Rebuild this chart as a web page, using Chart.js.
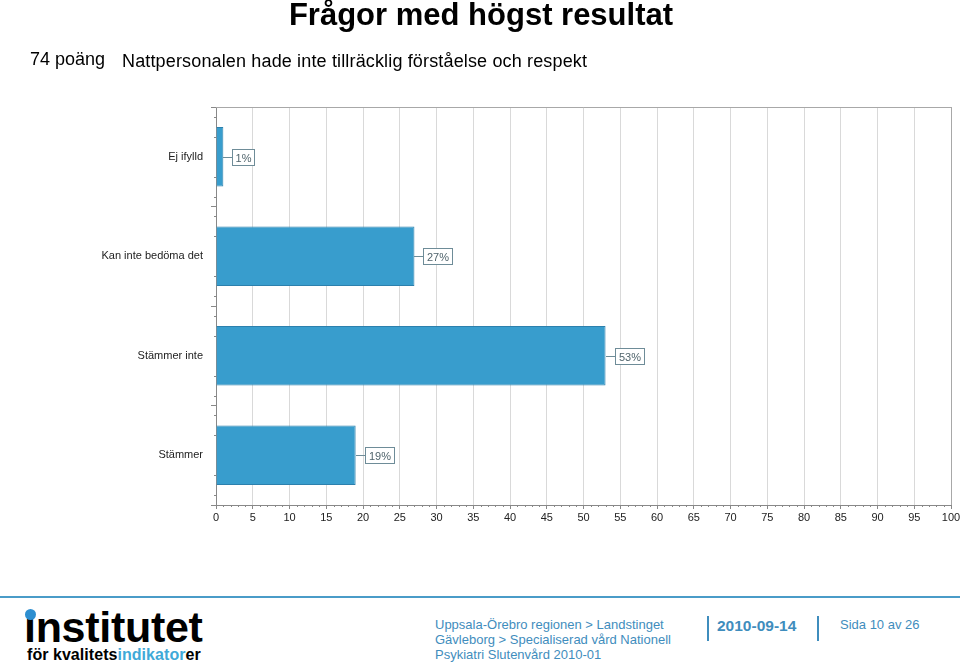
<!DOCTYPE html>
<html lang="sv">
<head>
<meta charset="utf-8">
<title>Frågor med högst resultat</title>
<script src="https://cdn.jsdelivr.net/npm/chart.js@4.4.1/dist/chart.umd.min.js"></script>
<style>
  body { margin: 0; background: #fff; font-family: "Liberation Sans", Arial, sans-serif; }
  #page { position: relative; width: 960px; height: 666px; overflow: hidden; }
  .abs { position: absolute; white-space: nowrap; }
  #title { left: 0; width: 962px; top: -1px; text-align: center; font-size: 31px; line-height: 31px; font-weight: bold; color: #000; }
  #points { left: 30px; top: 49px; font-size: 18px; line-height: 20px; color: #000; }
  #question { left: 122px; top: 51px; font-size: 18px; line-height: 20px; color: #000; letter-spacing: 0.15px; }
  #chartBox { left: 0; top: 0; width: 960px; height: 540px; }
  #rule { left: 0; top: 596px; width: 960px; height: 2px; background: #4a9cc8; }
  #logo1 { left: 24px; top: 603px; font-size: 43px; line-height: 48px; font-weight: bold; color: #000; letter-spacing: -0.3px; }
  #dot { left: 25px; top: 609px; width: 11px; height: 11px; border-radius: 50%; background: #2e8fd0; }
  #logo2 { left: 27px; top: 646px; font-size: 16px; line-height: 18px; font-weight: bold; color: #000; letter-spacing: 0.05px; }
  #logo2 span { color: #3fa9d8; }
  .foot { color: #3f8dbd; font-size: 13px; line-height: 15px; }
  #org { left: 435px; top: 617px; }
  #date { left: 717px; top: 617px; font-size: 15.5px; font-weight: bold; line-height: 18px; }
  #page1 { left: 840px; top: 617px; }
  .bar { width: 2px; height: 25px; background: #3f8dbd; top: 616px; }
</style>
</head>
<body>
<div id="page">
  <div id="chartBox" class="abs"><canvas id="resultChart" width="960" height="540"></canvas></div>
  <div id="title" class="abs">Frågor med högst resultat</div>
  <div id="points" class="abs">74 poäng</div>
  <div id="question" class="abs">Nattpersonalen hade inte tillräcklig förståelse och respekt</div>

  <div id="rule" class="abs"></div>
  <div id="logo1" class="abs">ınstitutet</div>
  <div id="dot" class="abs"></div>
  <div id="logo2" class="abs">för kvalitets<span>indikator</span>er</div>

  <div id="org" class="abs foot">Uppsala-Örebro regionen &gt; Landstinget<br>Gävleborg &gt; Specialiserad vård Nationell<br>Psykiatri Slutenvård 2010-01</div>
  <div class="abs bar" style="left:707px"></div>
  <div id="date" class="abs foot">2010-09-14</div>
  <div class="abs bar" style="left:817px"></div>
  <div id="page1" class="abs foot">Sida 10 av 26</div>
</div>

<script>
// ==========================
// Data
// ==========================
const categories = ["Ej ifylld", "Kan inte bedöma det", "Stämmer inte", "Stämmer"];
const percentValues = [1, 27, 53, 19];
const xTickMax = 100;
const xTickStep = 5;

// ==========================
// Plugins: frame, minor ticks, value labels
// ==========================
const frameAndMinorTicks = {
  id: "frameAndMinorTicks",
  afterDraw(chart) {
    const { ctx, chartArea, scales } = chart;
    const x = scales.x, y = scales.y;
    ctx.save();
    // top and right frame lines
    ctx.strokeStyle = "#a8a8a8";
    ctx.lineWidth = 1;
    ctx.beginPath();
    ctx.moveTo(chartArea.left, chartArea.top + 0.5);
    ctx.lineTo(chartArea.right + 0.5, chartArea.top + 0.5);
    ctx.moveTo(chartArea.right + 0.5, chartArea.top);
    ctx.lineTo(chartArea.right + 0.5, chartArea.bottom);
    ctx.stroke();

    ctx.strokeStyle = "#888";
    ctx.beginPath();
    // minor ticks on x axis, every unit
    for (let v = 0; v <= xTickMax; v++) {
      if (v % xTickStep === 0) continue;
      const px = Math.round(x.getPixelForValue(v)) + 0.5;
      ctx.moveTo(px, chartArea.bottom);
      ctx.lineTo(px, chartArea.bottom + 2);
    }
    // minor ticks on y axis, five per category
    const band = y.getPixelForValue(1) - y.getPixelForValue(0);
    categories.forEach((c, i) => {
      const center = y.getPixelForValue(i);
      [-2, -1, 1, 2].forEach(k => {
        const py = Math.round(center + k * band / 5) + 0.5;
        ctx.moveTo(chartArea.left - 2, py);
        ctx.lineTo(chartArea.left, py);
      });
    });
    ctx.stroke();
    ctx.restore();
  }
};

const valueLabels = {
  id: "valueLabels",
  afterDatasetsDraw(chart) {
    const { ctx } = chart;
    const meta = chart.getDatasetMeta(0);
    ctx.save();
    ctx.font = "11px 'Liberation Sans', Arial, sans-serif";
    meta.data.forEach((bar, i) => {
      const text = percentValues[i] + "%";
      const w = Math.ceil(ctx.measureText(text).width) + 6;
      const h = 16;
      const x0 = Math.round(bar.x);
      const y0 = Math.round(bar.y);
      const bx = x0 + 9;
      ctx.strokeStyle = "#6e8c98";
      ctx.lineWidth = 1;
      ctx.beginPath();
      ctx.moveTo(x0, y0 + 0.5);
      ctx.lineTo(bx, y0 + 0.5);
      ctx.stroke();
      ctx.fillStyle = "#fff";
      ctx.fillRect(bx + 0.5, y0 - h / 2 + 0.5, w, h);
      ctx.strokeRect(bx + 0.5, y0 - h / 2 + 0.5, w, h);
      ctx.fillStyle = "#50646c";
      ctx.textAlign = "center";
      ctx.textBaseline = "middle";
      ctx.fillText(text, bx + 0.5 + w / 2, y0 + 1.5);
    });
    ctx.restore();
  }
};

// ==========================
// Chart
// ==========================
const ctx = document.getElementById("resultChart").getContext("2d");
window.resultChart = new Chart(ctx, {
  type: "bar",
  data: {
    labels: categories,
    datasets: [{
      data: percentValues,
      backgroundColor: "#389dcd",
      borderColor: "#2c80ad",
      borderWidth: 1,
      barPercentage: 0.6,
      categoryPercentage: 1
    }]
  },
  options: {
    indexAxis: "y",
    responsive: false,
    animation: false,
    layout: { padding: { top: 107, right: 9, left: 0, bottom: 0 } },
    plugins: {
      legend: { display: false },
      tooltip: { enabled: false }
    },
    scales: {
      x: {
        min: 0,
        max: xTickMax,
        afterFit(scale) {
          scale.height = 35;
          scale.paddingRight = 0;
          scale.paddingLeft = 0;
        },
        ticks: {
          stepSize: xTickStep,
          autoSkip: false,
          maxRotation: 0,
          padding: 2,
          color: "#222",
          font: { family: "'Liberation Sans', Arial, sans-serif", size: 11 }
        },
        grid: { color: "#d9d9d9", tickColor: "#888", tickLength: 4 },
        border: { color: "#888" }
      },
      y: {
        afterFit(scale) { scale.width = 216; },
        ticks: {
          padding: 8,
          color: "#222",
          font: { family: "'Liberation Sans', Arial, sans-serif", size: 11 }
        },
        grid: { drawOnChartArea: false, tickColor: "#888", tickLength: 5 },
        border: { color: "#888" }
      }
    }
  },
  plugins: [frameAndMinorTicks, valueLabels]
});
</script>
</body>
</html>
